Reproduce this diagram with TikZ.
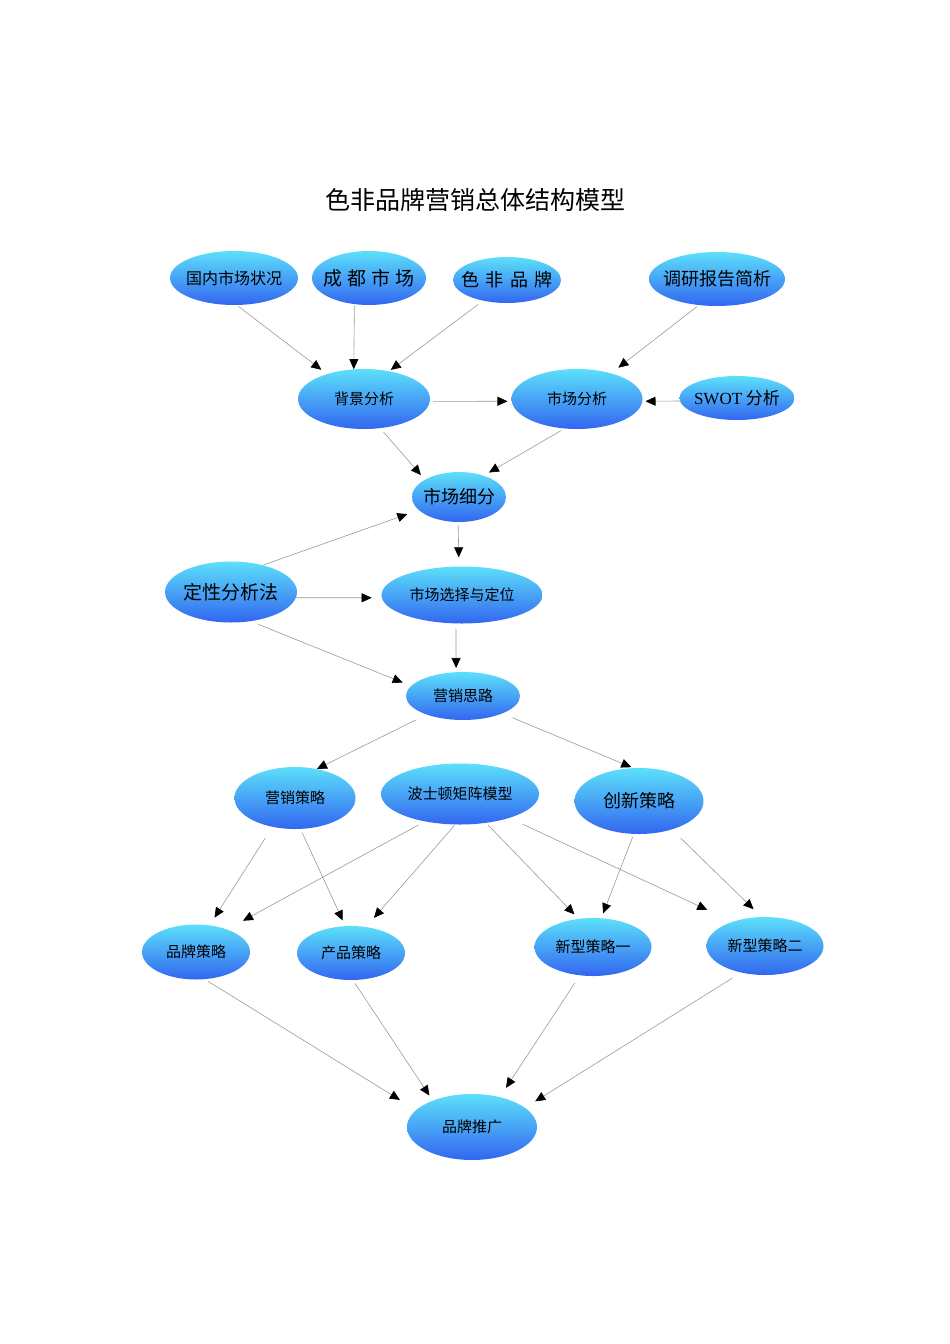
\documentclass[tikz,border=0pt]{standalone}
\usepackage{fontspec}
\newfontfamily\cjk{Noto Sans CJK SC}
\newfontfamily\lat{Liberation Serif}
\usetikzlibrary{shapes.geometric,arrows.meta}
\definecolor{bubtop}{RGB}{92,224,250}
\definecolor{bubbot}{RGB}{50,102,240}
\tikzset{
  bub/.style={ellipse,top color=bubtop,bottom color=bubbot,inner xsep=-12pt,inner ysep=0pt,fs=15},
  fs/.style={font=\cjk\fontsize{#1}{#1}\selectfont},
  sz/.style 2 args={minimum width=#1pt,minimum height=#2pt},
  arr/.style={draw=black!40,line width=0.6pt,-{Triangle[length=10pt,width=9pt,color=black]}},
  gaps/.style 2 args={shorten <=#1pt,shorten >=#2pt}
}
\begin{document}
\begin{tikzpicture}[x=1pt,y=-1pt]
\useasboundingbox (0,0) rectangle (950,1344);
\node[fs=25] (TT) at (475,200) {色非品牌营销总体结构模型};

\node[bub,sz={128}{54},fs=16] (GN) at (234,278) {国内市场状况};
\node[bub,sz={114}{54},fs=19] (CD) at (369,278) {成\hspace{.25em}都\hspace{.25em}市\hspace{.25em}场};
\node[bub,sz={108}{46},fs=18] (SF) at (507,280) {色\hspace{.35em}非\hspace{.35em}品\hspace{.35em}牌};
\node[bub,sz={136}{54},fs=18] (DY) at (717,279) {调研报告简析};
\node[bub,sz={132}{60}] (BJ) at (364,399) {背景分析};
\node[bub,sz={131}{60}] (SC) at (577,399) {市场分析};
\node[bub,sz={115}{44},fs=17] (SW) at (737,398) {{\lat SWOT} 分析};
\node[bub,sz={94}{50},fs=18] (XF) at (459,497) {市场细分};
\node[bub,sz={132}{61},fs=19] (DX) at (231,592) {定性分析法};
\node[bub,sz={161}{57}] (XD) at (462,595) {市场选择与定位};
\node[bub,sz={114}{48}] (YC) at (463,696) {营销思路};
\node[bub,sz={121}{62}] (YL) at (295,798) {营销策略};
\node[bub,sz={158}{61}] (BS) at (460,794) {波士顿矩阵模型};
\node[bub,sz={129}{66},fs=18] (CX) at (639,801) {创新策略};
\node[bub,sz={108}{55}] (PP) at (196,952) {品牌策略};
\node[bub,sz={108}{54}] (CP) at (351,953) {产品策略};
\node[bub,sz={117}{58}] (X1) at (593,947) {新型策略一};
\node[bub,sz={117}{58}] (X2) at (765,946) {新型策略二};
\node[bub,sz={130}{66}] (TG) at (472,1127) {品牌推广};

\path[every edge/.style=arr]
  (GN.-84) edge[gaps={2}{7}] (BJ.146)
  (CD.-119) edge[gaps={1}{0}] (BJ.109)
  (SF.-139) edge[gaps={6}{2}] (BJ.48)
  (DY.-125) edge[gaps={2}{9}] (SC.37)
  (BJ.-2) edge[gaps={3}{4}] (SC.182)
  (SW.183) edge[gaps={0}{3}] (SC.-2)
  (BJ.-61) edge[gaps={5}{6}] (XF.153)
  (SC.-113) edge[gaps={4}{6}] (XF.41)
  (XF.-92) edge[gaps={3}{9}] (XD.96)
  (DX.40) edge[gaps={0}{12}] (XF.198)
  (DX.-5) edge[gaps={0}{10}] (XD.182)
  (DX.-56) edge[gaps={8}{9}] (YC.169)
  (XD.-102) edge[gaps={5}{4}] (YC.106)
  (YC.-153) edge[gaps={12}{0}] (YL.53)
  (YC.-24) edge[gaps={11}{2}] (CX.100)
  (YL.-128) edge[gaps={13}{9}] (PP.63)
  (YL.-80) edge[gaps={4}{6}] (CP.102)
  (BS.-142) edge[gaps={7}{18}] (PP.36)
  (BS.-99) edge[gaps={1}{12}] (CP.60)
  (BS.-48) edge[gaps={3}{6}] (X1.117)
  (BS.-26) edge[gaps={15}{28}] (X2.143)
  (CX.-99) edge[gaps={3}{5}] (X1.74)
  (CX.-41) edge[gaps={12}{11}] (X2.97)
  (PP.-72) edge[gaps={4}{19}] (TG.163)
  (CP.-86) edge[gaps={4}{6}] (TG.146)
  (X1.-115) edge[gaps={9}{11}] (TG.47)
  (X2.-132) edge[gaps={10}{12}] (TG.20);
\end{tikzpicture}
\end{document}
